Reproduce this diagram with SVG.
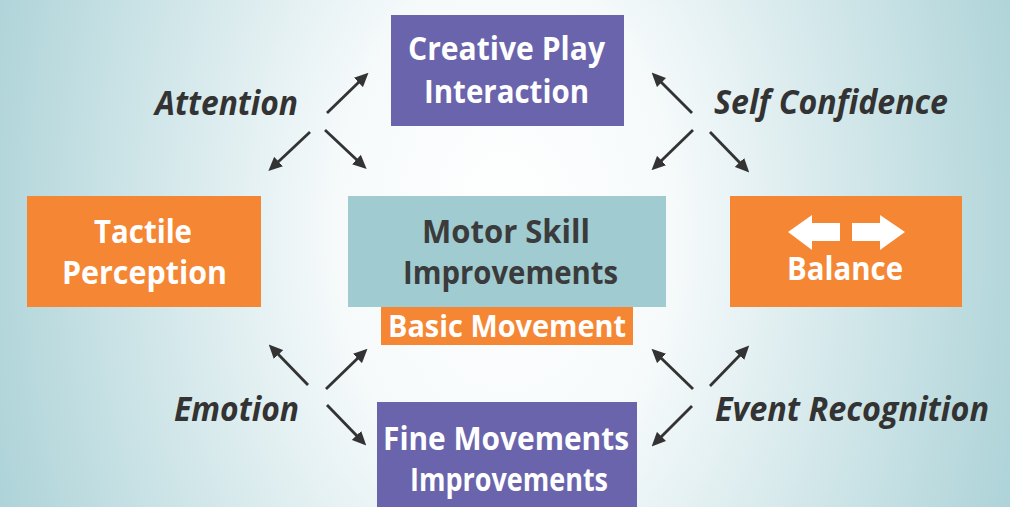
<svg xmlns="http://www.w3.org/2000/svg" width="1010" height="507" viewBox="0 0 1010 507">
<defs>
<radialGradient id="bg" gradientUnits="userSpaceOnUse" cx="505" cy="230" r="560" gradientTransform="translate(0,-115) scale(1,1.5)">
<stop offset="0" stop-color="#ffffff"/>
<stop offset="0.3" stop-color="#f6fafb"/>
<stop offset="1" stop-color="#a9d1d6"/>
</radialGradient>
<marker id="ah" markerUnits="userSpaceOnUse" markerWidth="14" markerHeight="14" viewBox="0 0 13 12" refX="2" refY="6" orient="auto">
<path d="M0,0 L13,6 L0,12 z" fill="#333333"/>
</marker>
<style>
.purple{fill:#6a64ac}
.orange{fill:#f58634}
.teal{fill:#a0cbd0}
.wt{font-family:"Open Sans","Noto Sans","Liberation Sans",sans-serif;font-weight:bold;fill:#ffffff;text-anchor:middle}
.dt{font-family:"Open Sans","Noto Sans","Liberation Sans",sans-serif;font-weight:bold;fill:#3b3b3b;text-anchor:middle}
.lab{font-family:"Open Sans","Noto Sans","Liberation Sans",sans-serif;font-weight:bold;font-style:italic;fill:#333333;font-size:34px}
.conn line{stroke:#333333;stroke-width:2.8;marker-end:url(#ah)}
</style>
</defs>
<rect x="0" y="0" width="1010" height="507" fill="url(#bg)"/>

<g id="creative-play">
<rect class="purple" x="391" y="15" width="233" height="111"/>
<text class="wt" x="506.5" y="60" font-size="33" textLength="197" lengthAdjust="spacingAndGlyphs">Creative Play</text>
<text class="wt" x="506.5" y="103" font-size="33" textLength="165" lengthAdjust="spacingAndGlyphs">Interaction</text>
</g>

<g id="tactile-perception">
<rect class="orange" x="27" y="196" width="234" height="111"/>
<text class="wt" x="143" y="243" font-size="33" textLength="98" lengthAdjust="spacingAndGlyphs">Tactile</text>
<text class="wt" x="144.5" y="284" font-size="33" textLength="165" lengthAdjust="spacingAndGlyphs">Perception</text>
</g>

<g id="motor-skill">
<rect class="teal" x="348" y="196" width="318" height="111"/>
<text class="dt" x="506" y="243" font-size="33" textLength="168" lengthAdjust="spacingAndGlyphs">Motor Skill</text>
<text class="dt" x="510.5" y="284" font-size="33" textLength="215" lengthAdjust="spacingAndGlyphs">Improvements</text>
</g>

<g id="basic-movement">
<rect class="orange" x="381" y="307" width="252" height="38"/>
<text class="wt" x="507" y="337" font-size="30" textLength="238" lengthAdjust="spacingAndGlyphs">Basic Movement</text>
</g>

<g id="balance">
<rect class="orange" x="730" y="196" width="232" height="111"/>
<polygon fill="#ffffff" points="788,232 812,215 812,223 840,223 840,241 812,241 812,250"/>
<polygon fill="#ffffff" points="905,232 880,215 880,223 852,223 852,241 880,241 880,250"/>
<text class="wt" x="845" y="280" font-size="33" textLength="116" lengthAdjust="spacingAndGlyphs">Balance</text>
</g>

<g id="fine-movements">
<rect class="purple" x="377" y="402" width="260" height="105"/>
<text class="wt" x="506" y="450" font-size="33" textLength="246" lengthAdjust="spacingAndGlyphs">Fine Movements</text>
<text class="wt" x="509" y="491" font-size="33" textLength="198" lengthAdjust="spacingAndGlyphs">Improvements</text>
</g>

<g id="labels">
<text class="lab" x="155" y="115" textLength="143" lengthAdjust="spacingAndGlyphs">Attention</text>
<text class="lab" x="714" y="114" textLength="234" lengthAdjust="spacingAndGlyphs">Self Confidence</text>
<text class="lab" x="174" y="421" textLength="125" lengthAdjust="spacingAndGlyphs">Emotion</text>
<text class="lab" x="715" y="421" textLength="274" lengthAdjust="spacingAndGlyphs">Event Recognition</text>
</g>

<g id="connectors" class="conn">
<line x1="327" y1="113" x2="360" y2="81"/>
<line x1="310" y1="132" x2="277" y2="163"/>
<line x1="325" y1="130" x2="358" y2="161"/>
<line x1="692" y1="113" x2="660" y2="81"/>
<line x1="693" y1="130" x2="660" y2="162"/>
<line x1="710" y1="132" x2="741" y2="164"/>
<line x1="308" y1="385" x2="277" y2="353"/>
<line x1="326" y1="389" x2="359" y2="357"/>
<line x1="327" y1="405" x2="358" y2="437"/>
<line x1="693" y1="389" x2="660" y2="357"/>
<line x1="710" y1="386" x2="741" y2="354"/>
<line x1="692" y1="406" x2="660" y2="438"/>
</g>
</svg>
